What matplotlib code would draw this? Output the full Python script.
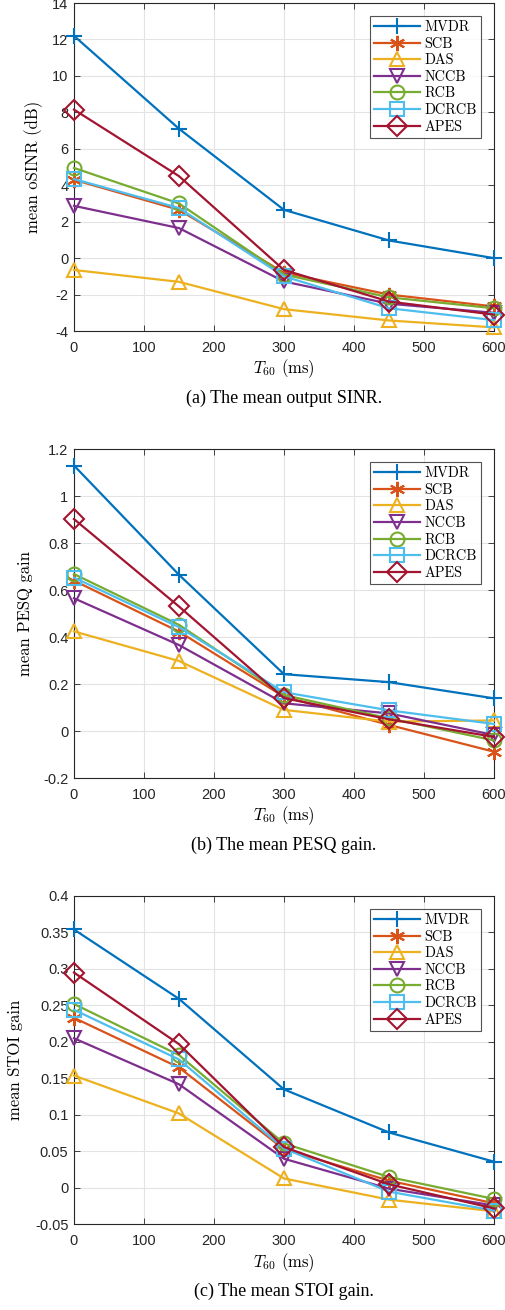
import matplotlib
matplotlib.use("Agg")
import matplotlib.pyplot as plt
from matplotlib.ticker import FixedLocator, FuncFormatter

plt.rcParams['mathtext.fontset'] = 'cm'

t60 = [0, 150, 300, 450, 600]
methods = ["MVDR", "SCB", "DAS", "NCCB", "RCB", "DCRCB", "APES"]
colors = ["#0072BD", "#D95319", "#EDB120", "#7E2F8E", "#77AC30", "#4DBEEE", "#A2142F"]
markers = ["+", (6, 2, 0), "^", "v", "o", "s", "D"]

osinr = {
    "MVDR":  [12.2, 7.1, 2.65, 0.97, 0.0],
    "SCB":   [4.3, 2.65, -0.8, -2.0, -2.65],
    "DAS":   [-0.65, -1.3, -2.8, -3.42, -3.8],
    "NCCB":  [2.87, 1.65, -1.28, -2.5, -3.0],
    "RCB":   [4.95, 3.0, -0.9, -2.15, -2.75],
    "DCRCB": [4.34, 2.75, -1.0, -2.75, -3.4],
    "APES":  [8.15, 4.5, -0.65, -2.38, -3.1],
}
pesq = {
    "MVDR":  [1.13, 0.665, 0.242, 0.208, 0.139],
    "SCB":   [0.64, 0.423, 0.146, 0.026, -0.088],
    "DAS":   [0.424, 0.298, 0.09, 0.04, 0.045],
    "NCCB":  [0.565, 0.366, 0.118, 0.075, -0.017],
    "RCB":   [0.668, 0.452, 0.153, 0.054, -0.04],
    "DCRCB": [0.653, 0.442, 0.165, 0.088, 0.03],
    "APES":  [0.902, 0.53, 0.14, 0.05, -0.025],
}
stoi = {
    "MVDR":  [0.354, 0.259, 0.135, 0.076, 0.036],
    "SCB":   [0.233, 0.165, 0.053, 0.01, -0.021],
    "DAS":   [0.154, 0.102, 0.013, -0.016, -0.032],
    "NCCB":  [0.205, 0.142, 0.04, -0.001, -0.024],
    "RCB":   [0.252, 0.182, 0.061, 0.015, -0.015],
    "DCRCB": [0.244, 0.176, 0.054, -0.005, -0.031],
    "APES":  [0.295, 0.197, 0.056, 0.005, -0.028],
}

# (data, y label, y limits, y ticks, caption, axes rect, y-label x offset)
panels = [
    (osinr, "mean oSINR (dB)", (-4, 14), [-4, -2, 0, 2, 4, 6, 8, 10, 12, 14],
     "(a) The mean output SINR.", [0.1462, 0.7473, 0.830, 0.2504], -0.074),
    (pesq, "mean PESQ gain", (-0.2, 1.2), [-0.2, 0, 0.2, 0.4, 0.6, 0.8, 1.0, 1.2],
     "(b) The mean PESQ gain.", [0.1462, 0.4061, 0.830, 0.2511], -0.098),
    (stoi, "mean STOI gain", (-0.05, 0.4),
     [-0.05, 0, 0.05, 0.1, 0.15, 0.2, 0.25, 0.3, 0.35, 0.4],
     "(c) The mean STOI gain.", [0.1462, 0.0653, 0.830, 0.2508], -0.121),
]


def gfmt(v, pos):
    s = "%g" % round(v, 6)
    return "0" if s in ("-0", "0") else s


fig = plt.figure(figsize=(5.06, 13.10), dpi=100)

for data, ylab, ylim, yticks, caption, rect, ylab_x in panels:
    ax = fig.add_axes(rect)
    for name, c, m in zip(methods, colors, markers):
        line_marker = m in ("+",) or isinstance(m, tuple)
        mfc = c if line_marker else "none"
        ms = 11 if line_marker else 10
        ax.plot(t60, data[name], color=c, marker=m, markersize=ms,
                markerfacecolor=mfc, markeredgecolor=c, markeredgewidth=1.5,
                linewidth=1.6, label=name, clip_on=False, zorder=3)
    ax.set_xlim(0, 600)
    ax.set_ylim(*ylim)
    ax.xaxis.set_major_locator(FixedLocator([0, 100, 200, 300, 400, 500, 600]))
    ax.yaxis.set_major_locator(FixedLocator(yticks))
    ax.yaxis.set_major_formatter(FuncFormatter(gfmt))
    ax.xaxis.set_major_formatter(FuncFormatter(gfmt))
    ax.grid(True, color="#e3e3e3", linewidth=0.8)
    ax.set_axisbelow(True)
    ax.tick_params(direction="in", top=True, right=True, length=4,
                   width=0.6, colors="#262626", labelsize=10.5)
    ax.tick_params(axis="x", pad=7)
    ax.tick_params(axis="y", pad=4)
    for lbl in ax.get_xticklabels() + ax.get_yticklabels():
        lbl.set_fontfamily("Liberation Sans")
        lbl.set_color("#262626")
    for sp in ax.spines.values():
        sp.set_linewidth(0.8)
        sp.set_color("#262626")
    ax.set_ylabel(ylab, family="cmr10", fontsize=12)
    ax.yaxis.set_label_coords(ylab_x, 0.5)
    ax.set_xlabel(r"$T_{60}$ (ms)", family="cmr10", fontsize=12, labelpad=2)
    leg = ax.legend(loc="upper right", bbox_to_anchor=(0.97, 0.96),
                    prop=dict(family="cmr10", size=10.3), frameon=True,
                    fancybox=False, edgecolor="#262626", handlelength=3.2,
                    handletextpad=0.3, labelspacing=0.2, borderpad=0.3,
                    borderaxespad=0.0)
    leg.get_frame().set_linewidth(0.8)
    ax.text(0.5, -0.204, caption, transform=ax.transAxes, ha="center", va="center",
            family="Liberation Serif", fontsize=13)

fig.savefig("out.png", dpi=100)
